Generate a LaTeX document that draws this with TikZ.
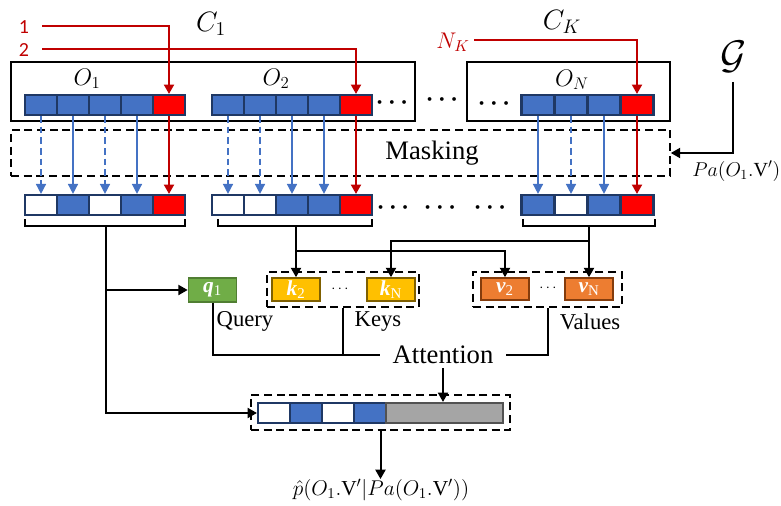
\RequirePackage{fix-cm}
\documentclass[tikz,border=0pt]{standalone}
\usepackage{fontspec}
\setmainfont{Liberation Serif}
\newfontfamily\calibri{Carlito}
\usetikzlibrary{arrows.meta}
\definecolor{cblue}{HTML}{4472C4}
\definecolor{navy}{HTML}{1F3864}
\definecolor{cred}{HTML}{FF0000}
\definecolor{dred}{HTML}{C00000}
\definecolor{cgreen}{HTML}{70AD47}
\definecolor{dgreen}{HTML}{507E32}
\definecolor{cyel}{HTML}{FFC000}
\definecolor{dyel}{HTML}{7F6000}
\definecolor{corange}{HTML}{ED7D31}
\definecolor{dorange}{HTML}{843C0C}
\definecolor{cgray}{HTML}{A5A5A5}
\definecolor{dgray}{HTML}{525252}
\begin{document}
\begin{tikzpicture}[x=0.75pt,y=-0.75pt,
  >={Triangle[width=7.5pt,length=7pt]},
  pxbox/.style n args={2}{minimum width=#1*0.75pt, minimum height=#2*0.75pt, inner sep=0pt},
  cell/.style={draw=navy, line width=1.6pt, pxbox={32}{20}},
  cellN/.style={draw=navy, line width=1.6pt, pxbox={33}{20}},
  dbox/.style={draw=black, dash pattern=on 6pt off 3.5pt, line width=1.2pt},
  sbox/.style={draw=black, line width=1pt},
  blk/.style={draw=black, line width=1.5pt},
  barr/.style={draw=cblue, line width=1.1pt, ->, >={Triangle[width=7.5pt,length=7.5pt]}, color=cblue},
  bdash/.style={barr, dash pattern=on 5pt off 3pt},
  rarr/.style={draw=dred, line width=1.4pt, ->, color=dred},
  lab/.style={font=\fontsize{17}{20}\selectfont, inner sep=0pt},
  big/.style={font=\fontsize{20}{24}\selectfont},
  dots/.style={font=\fontsize{18}{20}\selectfont\boldmath, inner sep=0pt},
  smalldots/.style={font=\fontsize{11}{13}\selectfont, inner sep=0pt},
  olab/.style={inner sep=0pt, font=\fontsize{18}{21}\selectfont},
  vec/.style={text=white, font=\fontsize{16}{18}\selectfont, inner sep=0pt, line width=1.2pt}
]
\useasboundingbox (0,0) rectangle (781,506);

% group boxes
\node[sbox, pxbox={404}{59}] (c1box) at (213,91.5) {};
\node[sbox, pxbox={203}{59}] (ckbox) at (568.5,91.5) {};
\node[inner sep=0pt, font=\fontsize{21}{24}\selectfont] (c1) at (211,24) {$C_1$};
\node[inner sep=0pt, font=\fontsize{21}{24}\selectfont] (ck) at (562,22) {$C_K$};
\node[olab] (o1lab) at (87,79) {$O_1$};
\node[olab] (o2lab) at (276,79) {$O_2$};
\node[olab] (onlab) at (572,80) {$O_N$};

% row 1 cells
\foreach \c [count=\i] in {cblue,cblue,cblue,cblue,cred}
  \node[cell, fill=\c] (a\i) at ({9+32*\i},105) {};
\foreach \c [count=\i] in {cblue,cblue,cblue,cblue,cred}
  \node[cell, fill=\c] (b\i) at ({196+32*\i},105) {};
\foreach \c [count=\i] in {cblue,cblue,cblue,cred}
  \node[cellN, fill=\c] (n\i) at ({505+33*\i},105) {};

% row 2 cells
\foreach \c [count=\i] in {white,cblue,white,cblue,cred}
  \node[cell, fill=\c] (ma\i) at ({9+32*\i},205) {};
\foreach \c [count=\i] in {white,white,cblue,cblue,cred}
  \node[cell, fill=\c] (mb\i) at ({196+32*\i},205) {};
\foreach \c [count=\i] in {cblue,white,cblue,cred}
  \node[cellN, fill=\c] (mn\i) at ({505+33*\i},205) {};

% ellipses
\node[dots] (e1) at (392,103) {$\cdots$};
\node[dots] (e2) at (442,100) {$\cdots$};
\node[dots] (e3) at (494,104) {$\cdots$};
\node[dots] (e4) at (393,208) {$\cdots$};
\node[dots] (e5) at (440,208) {$\cdots$};
\node[dots] (e6) at (490,208) {$\cdots$};

% masking
\node[dbox, pxbox={659}{46}] (mask) at (340.5,153) {};
\node[big, inner sep=0pt] (masklab) at (432,153) {Masking};

% red inputs
\node[inner sep=0pt, text=dred, font=\calibri\fontsize{15}{18}\selectfont] (l1) at (24,27) {1};
\node[inner sep=0pt, text=dred, font=\calibri\fontsize{15}{18}\selectfont] (l2) at (24,50) {2};
\node[inner sep=0pt, text=dred, font=\fontsize{17}{20}\selectfont] (nk) at (453,42) {$N_K$};
\coordinate (l1s) at (42,26);
\coordinate (l2s) at (42,49);
\coordinate (nks) at (474,40);
\draw[rarr] (l1s) -| (a5.north);
\draw[rarr] (l2s) -| (b5.north);
\draw[rarr] (nks) -| (n4.north);

% arrows through masking
\foreach \i/\s in {1/bdash,2/barr,3/bdash,4/barr}
  \draw[\s] (a\i.south) -- (ma\i.north);
\draw[rarr] (a5.south) -- (ma5.north);
\foreach \i/\s in {1/bdash,2/bdash,3/barr,4/barr}
  \draw[\s] (b\i.south) -- (mb\i.north);
\draw[rarr] (b5.south) -- (mb5.north);
\foreach \i/\s in {1/barr,2/bdash,3/barr}
  \draw[\s] (n\i.south) -- (mn\i.north);
\draw[rarr] (n4.south) -- (mn4.north);

% graph G
\node[inner sep=0pt, font=\fontsize{30}{34}\selectfont] (G) at (734,57) {$\mathcal{G}$};
\coordinate (gl) at (733,82);
\draw[blk,->] (gl) |- (mask.east);
\node[inner sep=0pt, font=\fontsize{15}{18}\selectfont, anchor=west] (pa) at (692,171) {$Pa(O_1.\mathrm{V}')$};

% braces
\draw[blk] (25,219) |- (185,226) -- (185,219);
\draw[blk] (218,219) |- (372,226) -- (372,219);
\draw[blk] (523,219) |- (655,226) -- (655,219);
\coordinate (s1) at (106,226);
\coordinate (s2) at (296,226);
\coordinate (sN) at (589,226);
\coordinate (h2) at (296,251);
\coordinate (hN) at (589,241);

% query / keys / values
\node[vec, draw=dgreen, fill=cgreen, pxbox={48}{24}] (q1) at (212.5,290) {{\bfseries\itshape q}\textsubscript{1}};
\node[dbox, pxbox={152}{35}] (keys) at (343,289.5) {};
\node[vec, draw=dyel, fill=cyel, pxbox={48}{23}] (k2) at (296,289.5) {{\bfseries\itshape k}\textsubscript{2}};
\node[vec, draw=dyel, fill=cyel, pxbox={48}{23}] (kN) at (391,289.5) {{\bfseries\itshape k}\textsubscript{N}};
\node[smalldots] (e7) at (340,289) {$\cdots$};
\node[dbox, pxbox={149}{35}] (vals) at (547.5,289.5) {};
\node[vec, draw=dorange, fill=corange, pxbox={48}{22}] (v2) at (505,289) {{\bfseries\itshape v}\textsubscript{2}};
\node[vec, draw=dorange, fill=corange, pxbox={48}{22}] (vN) at (589,289) {{\bfseries\itshape v}\textsubscript{N}};
\node[smalldots] (e8) at (548,288) {$\cdots$};

\node[lab] (qlab) at (245,321) {Query};
\node[lab] (klab) at (378,322) {Keys};
\node[lab] (vlab) at (590,322) {Values};

\draw[blk,->] (s1 |- q1.west) -- (q1.west);
\draw[blk,->] (s2) -- (k2.north);
\draw[blk,->] (h2) -| (v2.north);
\draw[blk,->] (sN) -- (vN.north);
\draw[blk,->] (hN) -| (kN.north);

% attention
\node[big, inner xsep=9pt, inner ysep=3pt] (att) at (443,355) {Attention};
\draw[blk] (q1.south) |- (att.west);
\draw[blk] (keys.south) -- (keys.south |- att.west);
\draw[blk] (vals.south) |- (att.east);

% output
\node[dbox, pxbox={259}{35}] (outb) at (380.5,412.5) {};
\foreach \c [count=\i] in {white,cblue,white,cblue}
  \node[cell, fill=\c] (o\i) at ({242+32*\i},413) {};
\node[draw=dgray, line width=1.6pt, fill=cgray, pxbox={117}{20}] (g) at (444.5,413) {};
\draw[blk,->] (s1) |- (o1.west);
\draw[blk,->] (att.south) -- (att.south |- g.north);
\node[inner sep=0pt, font=\fontsize{16}{19}\selectfont] (p) at (381,490) {$\hat{p}(O_1.\mathrm{V}'|Pa(O_1.\mathrm{V}'))$};
\draw[blk,->] (outb.south) -- (outb.south |- p.north);
\end{tikzpicture}
\end{document}
